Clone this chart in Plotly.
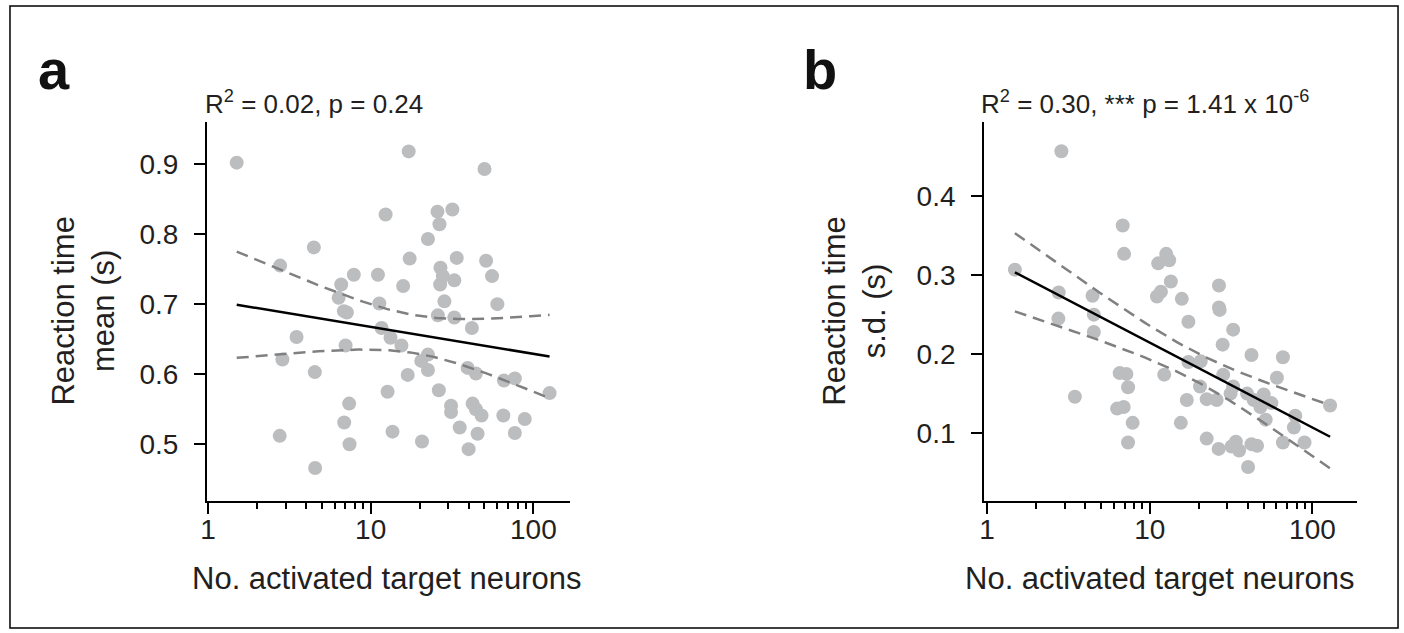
import numpy as np
import plotly.graph_objects as go

# ---------------- data ----------------
a_neurons = [1.502, 17.12, 50.06, 12.35, 25.73, 31.77, 26.47, 22.48, 4.473, 2.776,
             17.36, 33.79, 51.19, 26.84, 7.877, 11.08, 55.68, 6.59, 27.76, 26.72,
             32.66, 15.83, 6.353, 28.38, 60.05, 11.30, 6.845, 7.139, 25.87, 32.66,
             41.88, 11.67, 3.504, 13.24, 15.45, 7.01, 22.48, 2.867, 20.46, 22.48,
             39.42, 44.3, 4.536, 16.88, 65.9, 76.9, 125.7, 12.70, 26.23, 7.373,
             31.18, 42.29, 44.3, 31.18, 47.99, 65.35, 88.5, 6.874, 2.76, 13.62,
             35.24, 45.37, 76.9, 20.66, 7.414, 39.98, 4.556]
a_rt_mean = [0.902, 0.918, 0.893, 0.828, 0.832, 0.835, 0.814, 0.793, 0.781, 0.755,
             0.765, 0.766, 0.762, 0.752, 0.742, 0.742, 0.740, 0.728, 0.740, 0.728,
             0.734, 0.726, 0.709, 0.704, 0.700, 0.701, 0.690, 0.688, 0.684, 0.681,
             0.666, 0.666, 0.653, 0.652, 0.641, 0.641, 0.628, 0.621, 0.619, 0.606,
             0.609, 0.601, 0.603, 0.599, 0.591, 0.594, 0.573, 0.575, 0.577, 0.558,
             0.555, 0.558, 0.550, 0.546, 0.541, 0.541, 0.536, 0.531, 0.512, 0.518,
             0.524, 0.515, 0.516, 0.504, 0.500, 0.493, 0.466]

b_neurons = [2.863, 6.818, 6.954, 1.483, 12.62, 13.16, 11.27, 13.48, 26.62, 26.62,
             26.88, 11.71, 11.07, 15.74, 2.756, 4.45, 4.532, 2.745, 17.28, 32.55,
             4.532, 28.04, 42.18, 65.8, 17.28, 20.56, 6.536, 7.183, 12.27, 28.28,
             60.46, 32.55, 20.36, 31.38, 39.64, 50.15, 3.467, 7.357, 16.89, 22.38,
             25.76, 43.57, 55.9, 47.87, 6.301, 6.916, 128.3, 78.4, 51.58, 7.85,
             15.52, 76.86, 22.38, 7.357, 26.5, 33.82, 31.83, 35.42, 42.18, 45.64,
             65.8, 89.33, 40.2]
b_rt_sd = [0.457, 0.363, 0.327, 0.307, 0.327, 0.319, 0.315, 0.292, 0.287, 0.259,
           0.256, 0.279, 0.273, 0.270, 0.278, 0.274, 0.250, 0.245, 0.241, 0.231,
           0.228, 0.212, 0.199, 0.196, 0.190, 0.191, 0.176, 0.175, 0.174, 0.174,
           0.170, 0.159, 0.159, 0.150, 0.150, 0.149, 0.146, 0.158, 0.142, 0.143,
           0.142, 0.142, 0.138, 0.133, 0.131, 0.133, 0.135, 0.122, 0.117, 0.113,
           0.113, 0.107, 0.093, 0.088, 0.080, 0.089, 0.083, 0.078, 0.086, 0.084,
           0.088, 0.088, 0.057]

x_tick_vals = [1, 10, 100]
a_y_ticks = [0.5, 0.6, 0.7, 0.8, 0.9]
b_y_ticks = [0.1, 0.2, 0.3, 0.4]

a_stats = "R<sup>2</sup> = 0.02, p = 0.24"
b_stats = "R<sup>2</sup> = 0.30, *** p = 1.41 x 10<sup>-6</sup>"

# ---------------- styling ----------------
W, H = 1404, 633
FONT = "Liberation Sans, Arial, sans-serif"
TXT = "#231f20"
PT = "#bcbdbf"
DASH = "#808080"


def px(x):
    return x / W


def py(y):
    return 1 - y / H


def fit_with_ci(x, y, t=2.0, n=120):
    lx = np.log10(np.asarray(x, float))
    yy = np.asarray(y, float)
    b1, b0 = np.polyfit(lx, yy, 1)
    res = yy - (b0 + b1 * lx)
    dof = len(lx) - 2
    s = np.sqrt(np.sum(res ** 2) / dof)
    gx = np.linspace(lx.min(), lx.max(), n)
    gy = b0 + b1 * gx
    se = s * np.sqrt(1 / len(lx) + (gx - lx.mean()) ** 2 / np.sum((lx - lx.mean()) ** 2))
    return 10 ** gx, gy, gy + t * se, gy - t * se


fig = go.Figure()

for xs, ys, xa, ya in [(a_neurons, a_rt_mean, "x", "y"), (b_neurons, b_rt_sd, "x2", "y2")]:
    fig.add_trace(go.Scatter(x=xs, y=ys, mode="markers", xaxis=xa, yaxis=ya,
                             marker=dict(color=PT, size=14, line=dict(width=0)),
                             showlegend=False, hoverinfo="skip"))
    fx, fy, up, lo = fit_with_ci(xs, ys)
    for band in (up, lo):
        fig.add_trace(go.Scatter(x=fx, y=band, mode="lines", xaxis=xa, yaxis=ya,
                                 line=dict(color=DASH, width=2.5, dash="12px,7px"),
                                 showlegend=False, hoverinfo="skip"))
    fig.add_trace(go.Scatter(x=fx, y=fy, mode="lines", xaxis=xa, yaxis=ya,
                             line=dict(color="black", width=2.5),
                             showlegend=False, hoverinfo="skip"))

ydom = [py(501), py(122)]

common_x = dict(type="log", dtick=1, showgrid=False, zeroline=False,
                showline=True, linecolor="black", linewidth=2,
                ticks="outside", ticklen=11, tickwidth=2, tickcolor="black",
                tickfont=dict(family=FONT, size=28, color=TXT),
                ticklabelstandoff=-9,
                minor=dict(ticks="outside", ticklen=6, tickwidth=2, tickcolor="black",
                           dtick="D1", showgrid=False))
common_y = dict(showgrid=False, zeroline=False, showline=True, linecolor="black",
                linewidth=2, ticks="outside", ticklen=11, tickwidth=2,
                tickcolor="black", tickfont=dict(family=FONT, size=28, color=TXT),
                ticklabelstandoff=10)

fig.update_layout(
    width=W, height=H,
    margin=dict(l=0, r=0, t=0, b=0),
    paper_bgcolor="white", plot_bgcolor="white",
    showlegend=False,
    xaxis=dict(domain=[px(201), px(566)], range=[-0.006, 2.226], anchor="y", **common_x),
    yaxis=dict(domain=ydom, range=[0.419, 0.96], anchor="x", tickvals=a_y_ticks,
               ticktext=[f"{v:.1f}" for v in a_y_ticks], **common_y),
    xaxis2=dict(domain=[px(982), px(1357)], range=[-0.018, 2.275], anchor="y2", **common_x),
    yaxis2=dict(domain=ydom, range=[0.014, 0.494], anchor="x2", tickvals=b_y_ticks,
                ticktext=[f"{v:.1f}" for v in b_y_ticks], **common_y),
)

ann = []
# panel letters
ann.append(dict(text="<b>a</b>", x=px(29), y=py(103), xanchor="left", yanchor="bottom",
                font=dict(family=FONT, size=56, color="#111")))
ann.append(dict(text="<b>b</b>", x=px(798), y=py(103), xanchor="left", yanchor="bottom",
                font=dict(family=FONT, size=56, color="#111")))
# stats
ann.append(dict(text=a_stats, x=px(197), y=py(121), xanchor="left", yanchor="bottom",
                font=dict(family=FONT, size=26, color=TXT)))
ann.append(dict(text=b_stats, x=px(977), y=py(121), xanchor="left", yanchor="bottom",
                font=dict(family=FONT, size=26, color=TXT)))
# x titles
for cx in (px(381), px(1158)):
    ann.append(dict(text="No. activated target neurons", x=cx, y=py(578),
                    xanchor="center", yanchor="middle",
                    font=dict(family=FONT, size=31, color=TXT)))
# y titles
ann.append(dict(text="Reaction time<br>mean (s)", x=px(77), y=py(311), textangle=-90,
                xanchor="center", yanchor="middle",
                font=dict(family=FONT, size=31, color=TXT)))
ann.append(dict(text="Reaction time<br>s.d. (s)", x=px(852), y=py(311), textangle=-90,
                xanchor="center", yanchor="middle",
                font=dict(family=FONT, size=31, color=TXT)))
for a in ann:
    a.update(xref="paper", yref="paper", showarrow=False)
fig.update_layout(annotations=ann)

fig.add_shape(type="rect", xref="paper", yref="paper", x0=px(3), x1=px(1398),
              y0=py(628), y1=py(6), line=dict(color="black", width=1.5))

fig.write_html("out.html")
